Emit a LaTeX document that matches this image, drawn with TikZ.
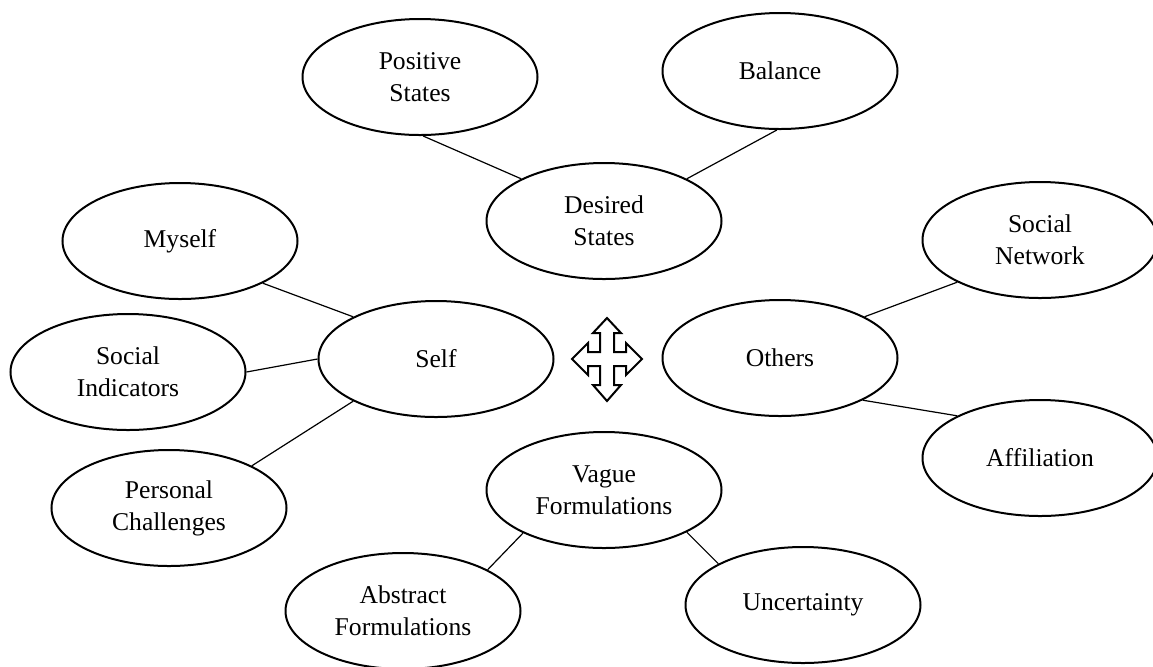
\documentclass[tikz,border=0pt]{standalone}
\usepackage{fontspec}
\setmainfont{Liberation Serif}
\usetikzlibrary{shapes.geometric}

\begin{document}
\begin{tikzpicture}[x=0.5pt,y=-0.5pt,
        bubble/.style={draw,ellipse,line width=1pt,minimum width=117.5pt,minimum height=58pt,
            inner sep=0pt,align=center,font=\fontsize{12.8}{16}\selectfont},
        link/.style={line width=0.6pt}]
        \useasboundingbox (0,0) rectangle (1153,666);
        \node[bubble] (P) at (420,77) {Positive\\States};
        \node[bubble] (B) at (780,71) {Balance};
        \node[bubble] (D) at (604,221) {Desired\\States};
        \node[bubble] (M) at (180,241) {Myself};
        \node[bubble] (I) at (128,372) {Social\\Indicators};
        \node[bubble] (S) at (436,359) {Self};
        \node[bubble] (C) at (169,508) {Personal\\Challenges};
        \node[bubble] (O) at (780,358) {Others};
        \node[bubble] (N) at (1040,240) {Social\\Network};
        \node[bubble] (F) at (1040,458) {Affiliation};
        \node[bubble] (V) at (604,490) {Vague\\Formulations};
        \node[bubble] (A) at (403,611) {Abstract\\Formulations};
        \node[bubble] (U) at (803,605) {Uncertainty};
        \coordinate (mid) at (607,359);
        \draw[link] (P.-87) to (D.153);
        \draw[link] (B.-93) to (D.27);
        \draw[link] (M.-27) to (S.153);
        \draw[link] (I.east) to (S.west);
        \draw[link] (C.27) to (S.207);
        \draw[link] (O.26) to (N.207);
        \draw[link] (O.-27) to (F.153);
        \draw[link] (V.208) to (A.26);
        \draw[link] (V.-27) to (U.154);
        \draw[line width=1pt,shift={(mid)}] (0,-41) -- (14,-26) -- (7,-26) -- (7,-7) -- (19,-7)
            -- (19,-16) -- (35,0) -- (19,16) -- (19,7) -- (7,7) -- (7,26) -- (14,26) -- (0,42)
            -- (-14,26) -- (-7,26) -- (-7,7) -- (-19,7) -- (-19,16) -- (-35,0) -- (-19,-16)
            -- (-19,-7) -- (-7,-7) -- (-7,-26) -- (-14,-26) -- cycle;
\end{tikzpicture}
\end{document}
